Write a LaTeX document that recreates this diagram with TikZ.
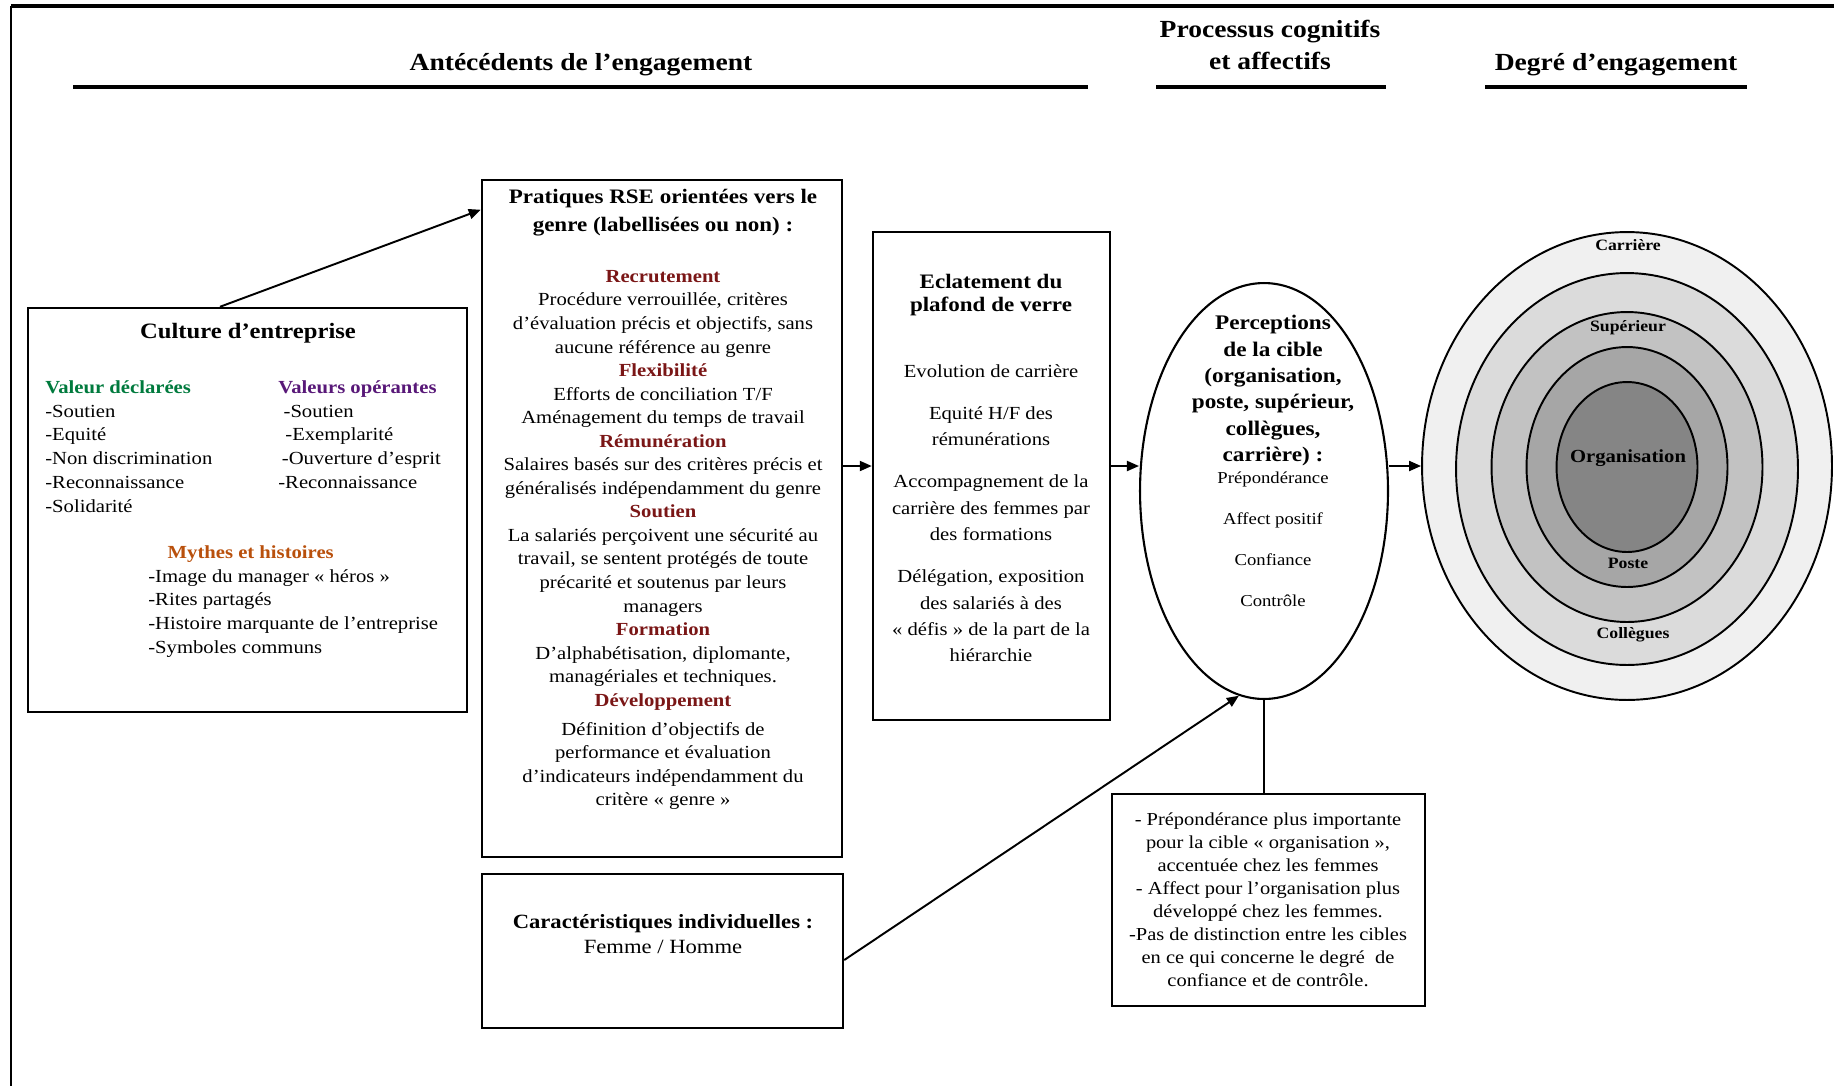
\documentclass[tikz,border=0pt]{standalone}
\usepackage{fontspec}
\setmainfont[FakeStretch=1.12]{Liberation Serif}
\usepackage{tikz}
\usetikzlibrary{arrows.meta,positioning,shapes.geometric,calc,fit}
\definecolor{valG}{RGB}{0,122,61}
\definecolor{valP}{RGB}{88,24,120}
\definecolor{mythO}{RGB}{185,80,12}
\definecolor{rseR}{RGB}{122,22,22}
\newcommand{\rsehd}[1]{{\color{rseR}\bfseries #1}}

\begin{document}
\begin{tikzpicture}[
  x=0.02cm, y=-0.02cm,
  box/.style={draw=black, line width=1.4pt, inner sep=0pt},
  ell/.style={ellipse, draw=black, line width=1.2pt, inner sep=0pt},
  ring/.style={ellipse, draw=black, line width=1.1pt, inner sep=0pt},
  hdr/.style={font=\fontsize{14}{18}\selectfont\bfseries, align=center, inner sep=0pt},
  ttl/.style={font=\fontsize{12.5}{13.6}\selectfont\bfseries, align=center, inner sep=0pt},
  txt/.style={font=\fontsize{10.5}{13.4}\selectfont, align=center, inner sep=0pt},
  lst/.style={font=\fontsize{10.5}{13.6}\selectfont, align=left, anchor=north west, inner sep=0pt},
  rlab/.style={font=\fontsize{9}{10}\selectfont\bfseries, inner sep=0pt},
  rule/.style={line width=2.3pt},
  link/.style={line width=1.1pt},
  >={Triangle[length=2.4mm, width=2mm]}]

  \useasboundingbox (0,0) rectangle (1834,1086);

  % outer frame (top and left only)
  \draw[line width=2.8pt] (11,6) -- (1834,6);
  \draw[line width=1.7pt] (11,6) -- (11,1086);

  % column headers
  \node[hdr] (hAnt) at (581,65) {Antécédents de l’engagement};
  \draw[rule] (73,87) -- (1088,87);
  \node[hdr] (hProc) at (1270,45) {Processus cognitifs\\et affectifs};
  \draw[rule] (1156,87) -- (1386,87);
  \node[hdr] (hDeg) at (1616,65) {Degré d’engagement};
  \draw[rule] (1485,87) -- (1747,87);

  % boxes
  \node[box, fit={(28,308) (467,712)}] (cult) {};
  \node[box, fit={(482,180) (842,857)}] (prat) {};
  \node[box, fit={(873,232) (1110,720)}] (ecl) {};
  \node[box, fit={(482,874) (843,1028)}] (carac) {};
  \node[box, fit={(1112,794) (1425,1006)}] (note) {};
  \node[ell, minimum width=4.96cm, minimum height=8.32cm] (perc) at (1264,491) {};

  % engagement targets, outer to inner
  \node[ring, fill=black!6,  minimum width=8.2cm,  minimum height=9.36cm] (r1) at (1627,466) {};
  \node[ring, fill=black!14, minimum width=6.84cm, minimum height=7.84cm] (r2) at (1627,469) {};
  \node[ring, fill=black!24, minimum width=5.42cm, minimum height=6.2cm]  (r3) at (1627,467) {};
  \node[ring, fill=black!35, minimum width=4.02cm, minimum height=4.8cm]  (r4) at (1627,467) {};
  \node[ring, fill=black!48, minimum width=2.82cm, minimum height=3.4cm]  (r5) at (1627,467) {};

  % culture d'entreprise
  \node[ttl] (cultT) at (248,333) {Culture d’entreprise};
  \node[lst] (valDec) at (45,380) {{\color{valG}\bfseries Valeur déclarées}\\-Soutien\\-Equité\\-Non discrimination\\-Reconnaissance\\-Solidarité};
  \node[lst] (valOp) at (278,380) {{\color{valP}\bfseries Valeurs opérantes}\\\hspace{3pt}-Soutien\\\hspace{4pt}-Exemplarité\\\hspace{2pt}-Ouverture d’esprit\\-Reconnaissance};
  \node[lst] (myth) at (148,545) {\hspace{11pt}{\color{mythO}\bfseries Mythes et histoires}\\-Image du manager « héros »\\-Rites partagés\\-Histoire marquante de l’entreprise\\-Symboles communs};

  % pratiques RSE
  \node[ttl, font=\fontsize{11.7}{16}\selectfont\bfseries] (pratT) at (663,213) {Pratiques RSE orientées vers le\\genre (labellisées ou non) :};
  \node[txt, anchor=north] (pratB) at (663,270) {\rsehd{Recrutement}\\
    Procédure verrouillée, critères\\
    d’évaluation précis et objectifs, sans\\
    aucune référence au genre\\
    \rsehd{Flexibilité}\\
    Efforts de conciliation T/F\\
    Aménagement du temps de travail\\
    \rsehd{Rémunération}\\
    Salaires basés sur des critères précis et\\
    généralisés indépendamment du genre\\
    \rsehd{Soutien}\\
    La salariés perçoivent une sécurité au\\
    travail, se sentent protégés de toute\\
    précarité et soutenus par leurs\\
    managers\\
    \rsehd{Formation}\\
    D’alphabétisation, diplomante,\\
    managériales et techniques.\\
    \rsehd{Développement}\\[3pt]
    Définition d’objectifs de\\
    performance et évaluation\\
    d’indicateurs indépendamment du\\
    critère « genre »};

  % plafond de verre
  \node[ttl, font=\fontsize{11.7}{13.6}\selectfont\bfseries] (eclT) at (991,295) {Eclatement du\\plafond de verre};
  \node[txt, anchor=north, font=\fontsize{10.5}{15}\selectfont] (eclB) at (991,364) {Evolution de carrière\\[9pt]
    Equité H/F des\\rémunérations\\[9pt]
    Accompagnement de la\\carrière des femmes par\\des formations\\[9pt]
    Délégation, exposition\\des salariés à des\\« défis » de la part de la\\hiérarchie};

  % perceptions
  \node[ttl, anchor=north, font=\fontsize{11.8}{15}\selectfont\bfseries] (percT) at (1273,315) {Perceptions\\de la cible\\(organisation,\\poste, supérieur,\\collègues,\\carrière) :};
  \node[txt, anchor=north, font=\fontsize{9.5}{23.3}\selectfont] (percI) at (1273,472) {Prépondérance\\Affect positif\\Confiance\\Contrôle};

  % results
  \node[txt, anchor=north, font=\fontsize{10.4}{13.1}\selectfont] (noteT) at (1268,812) {- Prépondérance plus importante\\
    pour la cible « organisation »,\\
    accentuée chez les femmes\\
    - Affect pour l’organisation plus\\
    développé chez les femmes.\\
    -Pas de distinction entre les cibles\\
    en ce qui concerne le degré~ de\\
    confiance et de contrôle.};

  % individual characteristics
  \node[txt, font=\fontsize{11.5}{14.2}\selectfont] (caracT) at (663,934) {\textbf{Caractéristiques individuelles :}\\Femme / Homme};

  % ring labels
  \node[rlab] (lCar) at (1628,245) {Carrière};
  \node[rlab] (lSup) at (1628,328) {Supérieur};
  \node[rlab, font=\fontsize{10.5}{12}\selectfont\bfseries] (lOrg) at (1628,458) {Organisation};
  \node[rlab] (lPos) at (1628,563) {Poste};
  \node[rlab] (lCol) at (1633,635) {Collègues};

  % connectors
  \draw[link,->] ([xshift=-0.55cm]cult.north) -- ([yshift=-0.62cm]prat.north west);
  \draw[link,->] (prat.east |- r1.west) -- (ecl.west |- r1.west);
  \draw[link,->] (ecl.east |- r1.west) -- (perc.west |- r1.west);
  \draw[link,->] (perc.east |- r1.west) -- (r1.west);
  \draw[link,->] ([yshift=-0.18cm]carac.east) -- (perc.263);
  \draw[link] (perc.south) -- (perc.south |- note.north);
\end{tikzpicture}
\end{document}
